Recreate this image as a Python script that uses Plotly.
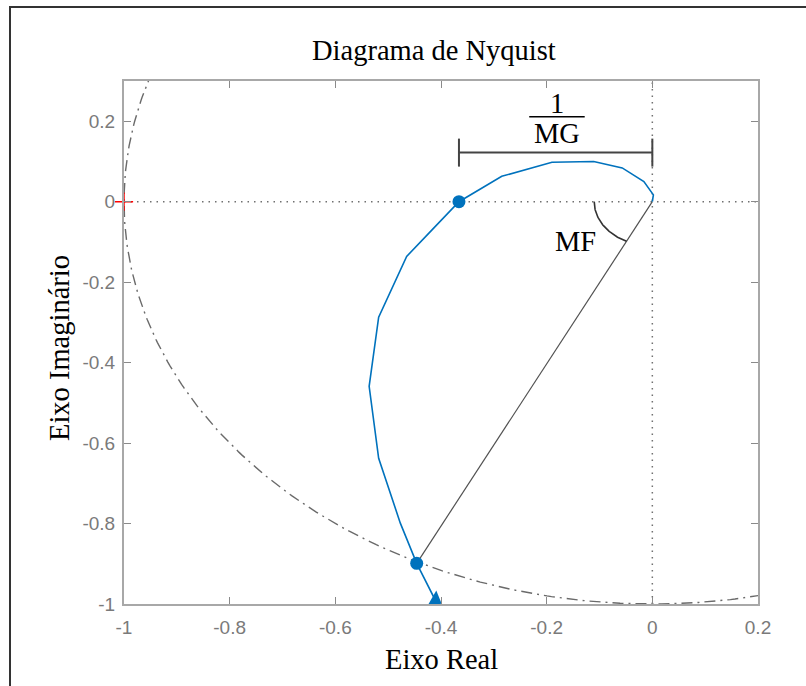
import numpy as np
import plotly.graph_objects as go

# Nyquist locus G(jw), traced from low to high frequency
re_g = [-0.405, -0.411, -0.446, -0.477, -0.518, -0.536, -0.518, -0.465, -0.417,
        -0.366, -0.285, -0.190, -0.111, -0.057, -0.016, 0.002, 0.0]
im_g = [-1.000, -0.990, -0.899, -0.799, -0.638, -0.459, -0.287, -0.136, -0.070,
        0.000, 0.063, 0.098, 0.100, 0.084, 0.050, 0.017, 0.0]

# phase-crossover point (gain margin) and gain-crossover point (phase margin)
gm_point = (-0.366, 0.0)
pm_point = (-0.446, -0.899)
arrow_point = (-0.411, -0.990)
critical_point = (-1.0, 0.0)

x_ticks = [-1, -0.8, -0.6, -0.4, -0.2, 0, 0.2]
y_ticks = [-1, -0.8, -0.6, -0.4, -0.2, 0, 0.2]
tick_text = ["-1", "-0.8", "-0.6", "-0.4", "-0.2", "0", "0.2"]
x_range = [-1, 0.2]
y_range = [-1, 0.3]

bracket_y = 0.122
arc_radius = 0.11

BLUE = "#0072BD"
SERIF = "Liberation Serif, Times New Roman, serif"
SANS = "Liberation Sans, Arial, sans-serif"

fig = go.Figure()

# unit circle
t = np.linspace(0, 2 * np.pi, 721)
fig.add_trace(go.Scatter(x=np.cos(t), y=np.sin(t), mode="lines",
                         line=dict(color="#6a6a6a", width=1.4, dash="11px,5px,2px,5px"),
                         hoverinfo="skip"))

# real and imaginary reference axes
dotted = dict(color="#707070", width=1.5, dash="1.5px,5px")
fig.add_trace(go.Scatter(x=x_range, y=[0, 0], mode="lines", line=dotted, hoverinfo="skip"))
fig.add_trace(go.Scatter(x=[0, 0], y=[y_range[0], y_range[1]], mode="lines",
                         line=dotted, hoverinfo="skip"))

# line from origin to gain-crossover point
fig.add_trace(go.Scatter(x=[0, pm_point[0]], y=[0, pm_point[1]], mode="lines",
                         line=dict(color="#505050", width=1.2), hoverinfo="skip"))

# phase margin arc
ang_end = np.arctan2(pm_point[1], pm_point[0]) % (2 * np.pi)
a = np.linspace(np.pi, ang_end, 60)
fig.add_trace(go.Scatter(x=arc_radius * np.cos(a), y=arc_radius * np.sin(a), mode="lines",
                         line=dict(color="#333333", width=1.6), hoverinfo="skip"))

# 1/MG bracket
fig.add_trace(go.Scatter(x=[gm_point[0], 0], y=[bracket_y, bracket_y],
                         mode="lines+markers",
                         line=dict(color="#444444", width=2),
                         marker=dict(symbol="line-ns", size=20,
                                     line=dict(color="#444444", width=2)),
                         hoverinfo="skip"))

# Nyquist locus
fig.add_trace(go.Scatter(x=re_g, y=im_g, mode="lines",
                         line=dict(color=BLUE, width=1.6), hoverinfo="skip"))
fig.add_trace(go.Scatter(x=[gm_point[0], pm_point[0]], y=[gm_point[1], pm_point[1]],
                         mode="markers", marker=dict(color=BLUE, size=13),
                         hoverinfo="skip"))
fig.add_trace(go.Scatter(x=[arrow_point[0]], y=[arrow_point[1]], mode="markers",
                         marker=dict(color=BLUE, size=15, symbol="triangle-right", angle=30),
                         cliponaxis=True, hoverinfo="skip"))

# critical point -1 + j0
fig.add_trace(go.Scatter(x=[critical_point[0]], y=[critical_point[1]], mode="markers",
                         marker=dict(symbol="cross-thin", size=13,
                                     line=dict(color="red", width=1.5)),
                         cliponaxis=False, hoverinfo="skip"))

axis_common = dict(showgrid=False, zeroline=False, ticks="inside", ticklen=7,
                   tickwidth=1.2, tickcolor="#8a8a8a", showline=True, linecolor="#a8a8a8",
                   linewidth=2, mirror="ticks",
                   tickfont=dict(family=SANS, size=19, color="#7a7a7a"))

fig.update_layout(
    width=806, height=686,
    margin=dict(l=124, r=48, t=81, b=82),
    paper_bgcolor="white", plot_bgcolor="white",
    showlegend=False,
    xaxis=dict(range=x_range, tickvals=x_ticks, ticktext=tick_text,
               ticklabelstandoff=5, **axis_common),
    yaxis=dict(range=y_range, tickvals=y_ticks, ticktext=tick_text,
               ticklabelstandoff=3, **axis_common),
)

def px_x(p):
    return (p - 124) / 634

def px_y(p):
    return (604 - p) / 523

txt = dict(family=SERIF, size=28.5, color="black")
fig.add_annotation(x=px_x(434), y=px_y(50), xref="paper", yref="paper",
                   text="Diagrama de Nyquist", showarrow=False, font=txt,
                   xanchor="center", yanchor="middle")
fig.add_annotation(x=px_x(441), y=px_y(659), xref="paper", yref="paper",
                   text="Eixo Real", showarrow=False, font=txt,
                   xanchor="center", yanchor="middle")
fig.add_annotation(x=px_x(59), y=px_y(348), xref="paper", yref="paper",
                   text="Eixo Imaginário", showarrow=False, font=txt, textangle=-90,
                   xanchor="center", yanchor="middle")

# 1/MG label as a stacked fraction
fig.add_annotation(x=-0.18, y=0.243, text="1", showarrow=False, font=txt,
                   xanchor="center", yanchor="middle")
fig.add_shape(type="line", x0=-0.233, x1=-0.128, y0=0.211, y1=0.211,
              line=dict(color="black", width=1.6))
fig.add_annotation(x=-0.18, y=0.169, text="MG", showarrow=False, font=txt,
                   xanchor="center", yanchor="middle")
fig.add_annotation(x=-0.146, y=-0.099, text="MF", showarrow=False, font=txt,
                   xanchor="center", yanchor="middle")

# outer frame
fig.add_shape(type="line", xref="paper", yref="paper", x0=px_x(9), x1=px_x(806),
              y0=px_y(7), y1=px_y(7), line=dict(color="#333333", width=2))
fig.add_shape(type="line", xref="paper", yref="paper", x0=px_x(10), x1=px_x(10),
              y0=px_y(7), y1=px_y(686), line=dict(color="#333333", width=2))

fig.write_html("out.html")
